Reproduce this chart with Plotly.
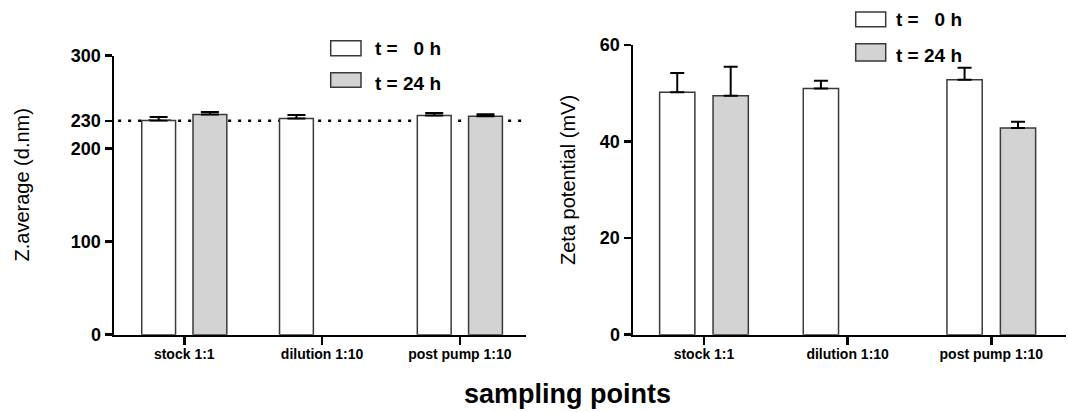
import plotly.graph_objects as go
from plotly.subplots import make_subplots

categories = ["stock 1:1", "dilution 1:10", "post pump 1:10"]
series_names = ["t =   0 h", "t = 24 h"]

zavg_t0 = [230.2, 232.4, 235.6]
zavg_t0_err = [3.9, 3.8, 2.8]
zavg_t24 = [236.7, None, 234.8]
zavg_t24_err = [2.8, None, 2.2]

zeta_t0 = [50.2, 51.0, 52.8]
zeta_t0_err = [4.0, 1.6, 2.5]
zeta_t24 = [49.5, None, 42.8]
zeta_t24_err = [6.0, None, 1.3]

left_ticks = [0, 100, 200, 230, 300]
right_ticks = [0, 20, 40, 60]
reference_line = 230

FONT = "Liberation Sans, Arial, Helvetica, sans-serif"
W, H = 1068, 412
fills = ["#ffffff", "#d3d3d3"]
edge = "#3a3a3a"


def px(x):
    return x / W


def py(y):
    return 1 - y / H


fig = make_subplots(rows=1, cols=2)

for col, vals, errs, capw in [
    (1, [zavg_t0, zavg_t24], [zavg_t0_err, zavg_t24_err], 9),
    (2, [zeta_t0, zeta_t24], [zeta_t0_err, zeta_t24_err], 7),
]:
    for i in range(2):
        fig.add_trace(
            go.Bar(
                x=categories,
                y=vals[i],
                name=series_names[i],
                marker=dict(color=fills[i], line=dict(color=edge, width=1.5)),
                error_y=dict(
                    type="data",
                    symmetric=False,
                    array=[e if e is not None else 0 for e in errs[i]],
                    arrayminus=[0, 0, 0],
                    color="black",
                    thickness=2,
                    width=capw,
                ),
                showlegend=False,
                hoverinfo="skip",
            ),
            row=1,
            col=col,
        )

axis_common = dict(
    showgrid=False,
    zeroline=False,
    showline=True,
    linecolor="black",
    linewidth=2.5,
    ticks="outside",
    tickcolor="black",
    tickwidth=2.5,
    ticklen=7,
    automargin=False,
)

xtickfont = dict(family=FONT, size=14, weight="bold", color="black")
ytickfont = dict(family=FONT, size=18, weight="bold", color="black")

fig.update_layout(
    width=W,
    height=H,
    margin=dict(l=0, r=0, t=0, b=0, pad=0),
    paper_bgcolor="white",
    plot_bgcolor="white",
    barmode="group",
    bargap=0.256,
    bargroupgap=0.34,
    font=dict(family=FONT, color="black"),
    xaxis=dict(
        axis_common,
        domain=[px(114), px(526)],
        type="category",
        categoryorder="array",
        categoryarray=categories,
        range=[-0.51, 2.48],
        ticklen=8,
        ticklabelstandoff=-3,
        tickfont=xtickfont,
    ),
    xaxis2=dict(
        axis_common,
        domain=[px(633), px(1066)],
        type="category",
        categoryorder="array",
        categoryarray=categories,
        range=[-0.494, 2.52],
        ticklen=8,
        ticklabelstandoff=-3,
        tickfont=xtickfont,
    ),
    yaxis=dict(
        axis_common,
        domain=[py(334.7), py(55.7)],
        range=[0, 300],
        tickvals=left_ticks,
        ticktext=[str(t) for t in left_ticks],
        tickfont=ytickfont,
    ),
    yaxis2=dict(
        axis_common,
        domain=[py(334.7), py(45)],
        range=[0, 60],
        tickvals=right_ticks,
        ticktext=[str(t) for t in right_ticks],
        tickfont=ytickfont,
    ),
)

# dotted reference line at 230 on the left chart
fig.add_shape(
    type="line",
    xref="x domain",
    yref="y",
    x0=0.01,
    x1=0.995,
    y0=reference_line,
    y1=reference_line,
    line=dict(color="black", width=2.5, dash="3px,7px"),
    layer="below",
)

# manual legends
legend_specs = [
    (330.7, 361, [(40.7, 55.7, 48.5), (72.7, 87.3, 83.5)], 373),
    (855.7, 885.7, [(12, 26.7, 20), (43.7, 61, 55)], 894),
]
for bx0, bx1, rows, tx in legend_specs:
    for i, (y0, y1, ty) in enumerate(rows):
        fig.add_shape(
            type="rect",
            xref="paper",
            yref="paper",
            x0=px(bx0),
            x1=px(bx1),
            y0=py(y1),
            y1=py(y0),
            fillcolor=fills[i],
            line=dict(color=edge, width=1.5),
        )
        fig.add_annotation(
            x=px(tx),
            y=py(ty),
            xref="paper",
            yref="paper",
            xanchor="left",
            yanchor="middle",
            text=series_names[i],
            showarrow=False,
            font=dict(family=FONT, size=19, weight="bold", color="black"),
        )

# axis titles
fig.add_annotation(
    x=px(21.5), y=py(185), xref="paper", yref="paper",
    text="Z.average (d.nm)", textangle=-90, showarrow=False,
    xanchor="center", yanchor="middle",
    font=dict(family=FONT, size=20, color="black"),
)
fig.add_annotation(
    x=px(568), y=py(180), xref="paper", yref="paper",
    text="Zeta potential (mV)", textangle=-90, showarrow=False,
    xanchor="center", yanchor="middle",
    font=dict(family=FONT, size=20, color="black"),
)
fig.add_annotation(
    x=px(567), y=py(394), xref="paper", yref="paper",
    text="sampling points", showarrow=False,
    xanchor="center", yanchor="middle",
    font=dict(family=FONT, size=27, weight="bold", color="black"),
)

fig.write_html(
    "out.html",
    config={"displayModeBar": False, "staticPlot": True},
    post_script="document.body.style.margin='0px';document.body.style.padding='0px';",
)
